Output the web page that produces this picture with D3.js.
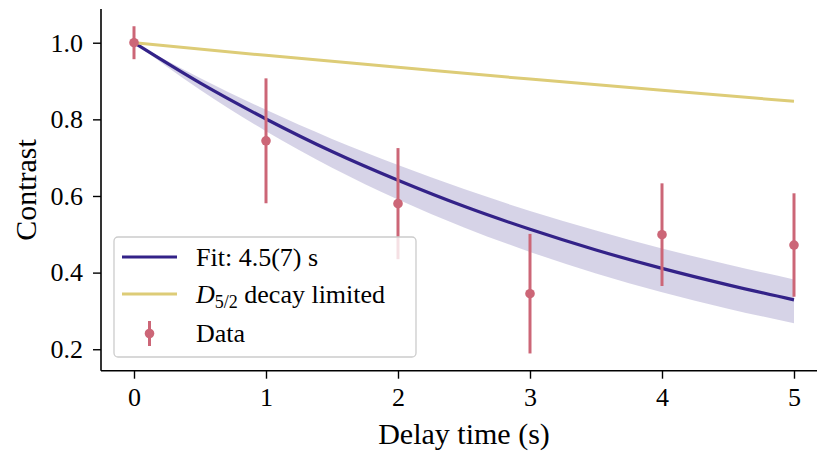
<!DOCTYPE html>
<html>
<head>
  <meta charset="UTF-8">
  <title>Contrast vs delay time</title>
  <script src="https://cdn.jsdelivr.net/npm/d3@7"></script>
  <style>
    body { margin: 0; background: #fff; }
    text { font-family: "Liberation Serif", "Times New Roman", serif; fill: #000; }
  </style>
</head>
<body>
<svg id="svg" width="817" height="452"></svg>
<script>
// measured points
var delay = [0, 1, 2, 3, 4, 5];
var contrast = [1.0, 0.744, 0.580, 0.345, 0.499, 0.472];
var contrastErr = [0.043, 0.163, 0.145, 0.156, 0.134, 0.135];

var fitT = [0, 0.5, 1, 1.5, 2, 2.5, 3, 3.5, 4, 4.5, 5];
var fitVal = [1.0, 0.895, 0.801, 0.716, 0.641, 0.573, 0.513, 0.459, 0.411, 0.368, 0.329];
var bandHi = [1.0, 0.908, 0.825, 0.749, 0.681, 0.618, 0.561, 0.510, 0.463, 0.421, 0.382];
var bandLo = [1.0, 0.877, 0.769, 0.674, 0.591, 0.518, 0.454, 0.398, 0.349, 0.306, 0.268];

// D5/2 decay limited
var limT = [0, 1, 2, 3, 4, 5];
var limVal = [1.0, 0.967, 0.936, 0.905, 0.876, 0.847];

var xTicks = [0, 1, 2, 3, 4, 5];
var yTicks = [0.2, 0.4, 0.6, 0.8, 1.0];

var svg = d3.select('#svg');

var x = d3.scaleLinear().domain([-0.25, 5.25]).range([101, 827]);
var y = d3.scaleLinear().domain([0.144, 1.088]).range([370.7, 9]);

var cFit = '#332288', cLim = '#DDCC77', cData = '#CC6677';

// band
var area = d3.area()
  .x(function(d, i){ return x(fitT[i]); })
  .y0(function(d, i){ return y(bandLo[i]); })
  .y1(function(d, i){ return y(bandHi[i]); })
  .curve(d3.curveMonotoneX);
svg.append('path').datum(fitT)
  .attr('d', area)
  .attr('fill', cFit)
  .attr('fill-opacity', 0.2);

var line = d3.line().curve(d3.curveMonotoneX);

svg.append('path')
  .attr('d', line(fitT.map(function(t, i){ return [x(t), y(fitVal[i])]; })))
  .attr('fill', 'none').attr('stroke', cFit).attr('stroke-width', 3.2);

svg.append('path')
  .attr('d', line(limT.map(function(t, i){ return [x(t), y(limVal[i])]; })))
  .attr('fill', 'none').attr('stroke', cLim).attr('stroke-width', 3);

// data with error bars
var pts = svg.append('g').selectAll('g').data(delay).enter().append('g');
pts.append('line')
  .attr('x1', function(d){ return x(d); })
  .attr('x2', function(d){ return x(d); })
  .attr('y1', function(d, i){ return y(contrast[i] + contrastErr[i]); })
  .attr('y2', function(d, i){ return y(contrast[i] - contrastErr[i]); })
  .attr('stroke', cData).attr('stroke-width', 3);
pts.append('circle')
  .attr('cx', function(d){ return x(d); })
  .attr('cy', function(d, i){ return y(contrast[i]); })
  .attr('r', 4.8)
  .attr('fill', cData);

// axes
var xAxis = svg.append('g')
  .attr('transform', 'translate(0,370.7)')
  .call(d3.axisBottom(x).tickValues(xTicks).tickFormat(d3.format('d')).tickSize(8).tickPadding(9));
var yAxis = svg.append('g')
  .attr('transform', 'translate(101,0)')
  .call(d3.axisLeft(y).tickValues(yTicks).tickFormat(d3.format('.1f')).tickSize(8).tickPadding(10));
[xAxis, yAxis].forEach(function(a){
  a.select('.domain').attr('stroke', '#000').attr('stroke-width', 1.6);
  a.selectAll('.tick line').attr('stroke', '#000').attr('stroke-width', 1.4);
  a.selectAll('.tick text').style('font-size', '26px').attr('fill', '#000');
});
xAxis.select('.domain').attr('d', 'M101,0H827');
yAxis.select('.domain').attr('d', 'M0,370.7V9');

svg.append('text')
  .attr('x', 464).attr('y', 444)
  .attr('text-anchor', 'middle')
  .style('font-size', '30px')
  .text('Delay time (s)');

svg.append('text')
  .attr('transform', 'translate(36,190)rotate(-90)')
  .attr('text-anchor', 'middle')
  .style('font-size', '30px')
  .text('Contrast');

// legend
var leg = svg.append('g');
leg.append('rect')
  .attr('x', 114).attr('y', 237).attr('width', 302).attr('height', 120)
  .attr('rx', 4)
  .attr('fill', '#fff').attr('fill-opacity', 0.8)
  .attr('stroke', '#cccccc').attr('stroke-width', 1.3);

leg.append('line').attr('x1', 122).attr('x2', 177).attr('y1', 257).attr('y2', 257)
  .attr('stroke', cFit).attr('stroke-width', 3.2);
leg.append('line').attr('x1', 122).attr('x2', 177).attr('y1', 294).attr('y2', 294)
  .attr('stroke', cLim).attr('stroke-width', 3);
leg.append('line').attr('x1', 149.5).attr('x2', 149.5).attr('y1', 321).attr('y2', 346)
  .attr('stroke', cData).attr('stroke-width', 3);
leg.append('circle').attr('cx', 149.5).attr('cy', 333.5).attr('r', 4.8).attr('fill', cData);

leg.append('text').attr('x', 196).attr('y', 266).style('font-size', '26px').text('Fit: 4.5(7) s');
var lt = leg.append('text').attr('x', 196).attr('y', 303).style('font-size', '26px');
lt.append('tspan').style('font-style', 'italic').text('D');
lt.append('tspan').attr('dy', 5).style('font-size', '18px').text('5/2');
lt.append('tspan').attr('dy', -5).text(' decay limited');
leg.append('text').attr('x', 196).attr('y', 342).style('font-size', '26px').text('Data');
</script>
</body>
</html>
